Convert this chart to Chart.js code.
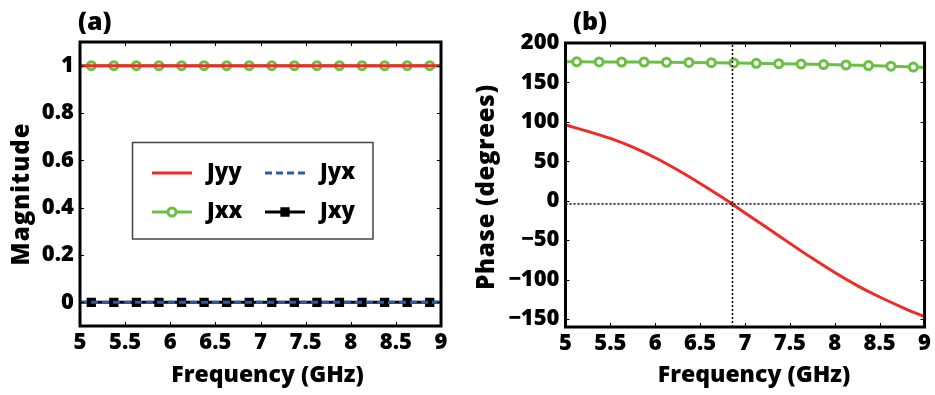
<!DOCTYPE html>
<html><head><meta charset="utf-8">
<script src="https://cdn.jsdelivr.net/npm/chart.js@4.4.0/dist/chart.umd.min.js"></script>
<style>
html,body{margin:0;padding:0;background:#fff;}
#wrap{position:relative;width:935px;height:395px;overflow:hidden;background:#fff;}
#cA{position:absolute;left:0;top:0;}
#cB{position:absolute;left:470px;top:0;}
</style></head><body>
<div id="wrap"><canvas id="cA" width="470" height="395"></canvas><canvas id="cB" width="465" height="395"></canvas></div>
<script>
// ---- tick labels ----
const freqTicks = [5, 5.5, 6, 6.5, 7, 7.5, 8, 8.5, 9];
const magTicks = [0, 0.2, 0.4, 0.6, 0.8, 1];
const phaseTicks = [-150, -100, -50, 0, 50, 100, 150, 200];

// ---- panel (a): magnitude ----
const magFreqs = [5, 5.125, 5.375, 5.625, 5.875, 6.125, 6.375, 6.625, 6.875, 7.125, 7.375, 7.625, 7.875, 8.125, 8.375, 8.625, 8.875, 9];
const jyyMag = [1, 1, 1, 1, 1, 1, 1, 1, 1, 1, 1, 1, 1, 1, 1, 1, 1, 1];
const jxxMag = [1, 1, 1, 1, 1, 1, 1, 1, 1, 1, 1, 1, 1, 1, 1, 1, 1, 1];
const jyxMag = [0, 0, 0, 0, 0, 0, 0, 0, 0, 0, 0, 0, 0, 0, 0, 0, 0, 0];
const jxyMag = [0, 0, 0, 0, 0, 0, 0, 0, 0, 0, 0, 0, 0, 0, 0, 0, 0, 0];

// ---- panel (b): phase ----
const jyyFreqs = [5, 5.25, 5.5, 5.75, 6, 6.25, 6.5, 6.75, 7, 7.25, 7.5, 7.75, 8, 8.25, 8.5, 8.75, 9];
const jyyPhase = [96, 88, 79, 68, 54.5, 39, 22, 4, -15.5, -34.5, -54, -73, -91, -107.5, -122, -135, -147];
const jxxFreqs = [5, 5.125, 5.375, 5.625, 5.875, 6.125, 6.375, 6.625, 6.875, 7.125, 7.375, 7.625, 7.875, 8.125, 8.375, 8.625, 8.875, 9];
const jxxPhase = [176.3, 176.2, 176, 175.9, 175.8, 175.6, 175.4, 175.1, 174.7, 174.3, 173.8, 173.3, 172.7, 172.1, 171.4, 170.6, 169.5, 169];
const crossFreq = 6.86;
const crossPhase = -4;
const phaseRange = [-160, 200];

const RED = '#ee2b25', GREEN = '#6cbf45', BLUE = '#2c5aa8', BLACK = '#000';
const FONT = "'Open Sans', 'DejaVu Sans', sans-serif";
const W = '800';

const pts = (xs, ys) => xs.map((x, i) => ({x, y: ys[i]}));
const innerRadius = r => ctx => (ctx.dataIndex === 0 || ctx.dataIndex === ctx.dataset.data.length - 1) ? 0 : r;

function drawText(ctx, t) {
  ctx.save();
  ctx.translate(t.x, t.y);
  if (t.rot) ctx.rotate(t.rot);
  ctx.fillStyle = '#000';
  ctx.font = W + ' ' + t.size + 'px ' + FONT;
  if (t.spacing) ctx.letterSpacing = t.spacing + 'px';
  ctx.textAlign = t.align || 'center';
  ctx.textBaseline = 'middle';
  ctx.fillText(t.text, 0, 0);
  ctx.restore();
}

const framePlugin = {
  id: 'frame',
  afterDraw(chart, args, opts) {
    const {ctx, chartArea: a, scales} = chart;
    ctx.save();
    ctx.strokeStyle = '#000';
    ctx.lineWidth = 1;
    const L = 4;
    scales.x.ticks.forEach(t => {
      const px = Math.round(scales.x.getPixelForValue(t.value)) + 0.5;
      ctx.beginPath();
      ctx.moveTo(px, a.bottom); ctx.lineTo(px, a.bottom - L);
      ctx.moveTo(px, a.top); ctx.lineTo(px, a.top + L);
      ctx.stroke();
    });
    scales.y.ticks.forEach(t => {
      const py = Math.round(scales.y.getPixelForValue(t.value)) + 0.5;
      ctx.beginPath();
      ctx.moveTo(a.left, py); ctx.lineTo(a.left + L, py);
      ctx.moveTo(a.right, py); ctx.lineTo(a.right - L, py);
      ctx.stroke();
    });
    ctx.lineWidth = 3;
    ctx.strokeRect(a.left, a.top, a.right - a.left, a.bottom - a.top);
    ctx.restore();
    (opts.texts || []).forEach(t => drawText(ctx, t));
  }
};

const legendPlugin = {
  id: 'boxLegend',
  afterDraw(chart) {
    const {ctx} = chart;
    const ds = chart.data.datasets;
    ctx.save();
    ctx.fillStyle = '#fff';
    ctx.fillRect(132, 142, 241, 97);
    ctx.strokeStyle = '#444';
    ctx.lineWidth = 1.5;
    ctx.strokeRect(132.5, 142.5, 240.5, 96.5);
    const items = [
      {d: ds[0], x: 152, y: 173},
      {d: ds[2], x: 265, y: 173},
      {d: ds[1], x: 152, y: 212},
      {d: ds[3], x: 265, y: 212}
    ];
    items.forEach(it => {
      const d = it.d;
      ctx.strokeStyle = d.borderColor;
      ctx.lineWidth = d.borderWidth;
      ctx.setLineDash(d.borderDash || []);
      ctx.beginPath();
      ctx.moveTo(it.x, it.y); ctx.lineTo(it.x + 40, it.y);
      ctx.stroke();
      ctx.setLineDash([]);
      if (d.legendMarker) {
        ctx.fillStyle = d.pointBackgroundColor;
        ctx.strokeStyle = d.borderColor;
        ctx.lineWidth = d.pointBorderWidth;
        ctx.beginPath();
        if (d.pointStyle === 'rect') {
          const s = d.legendMarker * Math.SQRT1_2;
          ctx.rect(it.x + 20 - s, it.y - s, 2 * s, 2 * s);
        } else {
          ctx.arc(it.x + 20, it.y, d.legendMarker, 0, Math.PI * 2);
        }
        ctx.fill(); ctx.stroke();
      }
      drawText(ctx, {text: d.label, x: it.x + 55, y: it.y, size: 22, align: 'left'});
    });
    ctx.restore();
  }
};

function xScale(height) {
  return {
    type: 'linear', min: 5, max: 9,
    grid: {display: false, drawTicks: false}, border: {display: false},
    afterBuildTicks: s => { s.ticks = freqTicks.map(v => ({value: v})); },
    afterFit: s => { s.height = height; },
    ticks: {color: '#000', font: {family: FONT, size: 22, weight: W}, padding: 4,
      autoSkip: false, maxRotation: 0, callback: v => String(v)}
  };
}

function yScale(opts) {
  return {
    type: 'linear', min: opts.min, max: opts.max,
    grid: {display: false, drawTicks: false}, border: {display: false},
    afterBuildTicks: s => { s.ticks = opts.ticks.map(v => ({value: v})); },
    afterFit: s => { s.width = opts.width; },
    ticks: {color: '#000', font: {family: FONT, size: 22, weight: W}, padding: 6,
      autoSkip: false, callback: opts.fmt}
  };
}

const common = {
  responsive: false, animation: false, devicePixelRatio: 1,
  plugins: {legend: {display: false}, tooltip: {enabled: false}},
  elements: {line: {fill: false}}
};

new Chart(document.getElementById('cA'), {
  type: 'line',
  data: {datasets: [
    {label: 'Jyy', data: pts(magFreqs, jyyMag), borderColor: RED, borderWidth: 3, pointRadius: 0},
    {label: 'Jxx', data: pts(magFreqs, jxxMag), borderColor: GREEN, borderWidth: 3,
      pointStyle: 'circle', pointRadius: innerRadius(4), pointBorderWidth: 3,
      pointBorderColor: GREEN, pointBackgroundColor: '#fff', legendMarker: 4},
    {label: 'Jyx', data: pts(magFreqs, jyxMag), borderColor: BLUE, borderWidth: 3,
      borderDash: [7, 4], pointRadius: 0},
    {label: 'Jxy', data: pts(magFreqs, jxyMag), borderColor: BLACK, borderWidth: 3,
      pointStyle: 'rect', pointRadius: innerRadius(5.5), pointBorderWidth: 1.5,
      pointBorderColor: BLACK, pointBackgroundColor: BLACK, legendMarker: 5.5}
  ]},
  options: Object.assign({}, common, {
    layout: {padding: {top: 42, right: 29, bottom: 0, left: 0}},
    scales: {
      x: xScale(69),
      y: yScale({min: -0.1, max: 1.1, ticks: magTicks, width: 80, fmt: v => String(v)})
    },
    plugins: Object.assign({}, common.plugins, {frame: {texts: [
      {text: '(a)', x: 78, y: 23, size: 25, align: 'left'},
      {text: 'Frequency (GHz)', x: 267.5, y: 375, size: 23},
      {text: 'Magnitude', x: 22, y: 194, size: 24, spacing: 1, rot: -Math.PI / 2}
    ]}})
  }),
  plugins: [framePlugin, legendPlugin]
});

new Chart(document.getElementById('cB'), {
  type: 'line',
  data: {datasets: [
    {label: 'v', data: [{x: crossFreq, y: phaseRange[0]}, {x: crossFreq, y: phaseRange[1]}],
      borderColor: '#000', borderWidth: 1.5, borderDash: [2, 2], pointRadius: 0},
    {label: 'h', data: [{x: 5, y: crossPhase}, {x: 9, y: crossPhase}],
      borderColor: '#000', borderWidth: 1.5, borderDash: [2, 2], pointRadius: 0},
    {label: 'Jyy', data: pts(jyyFreqs, jyyPhase), borderColor: RED, borderWidth: 3, pointRadius: 0,
      cubicInterpolationMode: 'monotone'},
    {label: 'Jxx', data: pts(jxxFreqs, jxxPhase), borderColor: GREEN, borderWidth: 3,
      pointStyle: 'circle', pointRadius: innerRadius(4), pointBorderWidth: 3,
      pointBorderColor: GREEN, pointBackgroundColor: '#fff'}
  ]},
  options: Object.assign({}, common, {
    layout: {padding: {top: 43, right: 7.5, bottom: 0, left: 0}},
    scales: {
      x: xScale(68),
      y: yScale({min: phaseRange[0], max: phaseRange[1], ticks: phaseTicks, width: 95.5,
        fmt: v => v < 0 ? '\u2212' + Math.abs(v) : String(v)})
    },
    plugins: Object.assign({}, common.plugins, {frame: {texts: [
      {text: '(b)', x: 103, y: 23, size: 25, align: 'left'},
      {text: 'Frequency (GHz)', x: 284, y: 375, size: 23},
      {text: 'Phase (degrees)', x: 17, y: 187, size: 24, spacing: 0.7, rot: -Math.PI / 2}
    ]}})
  }),
  plugins: [framePlugin]
});
</script>
</body></html>
